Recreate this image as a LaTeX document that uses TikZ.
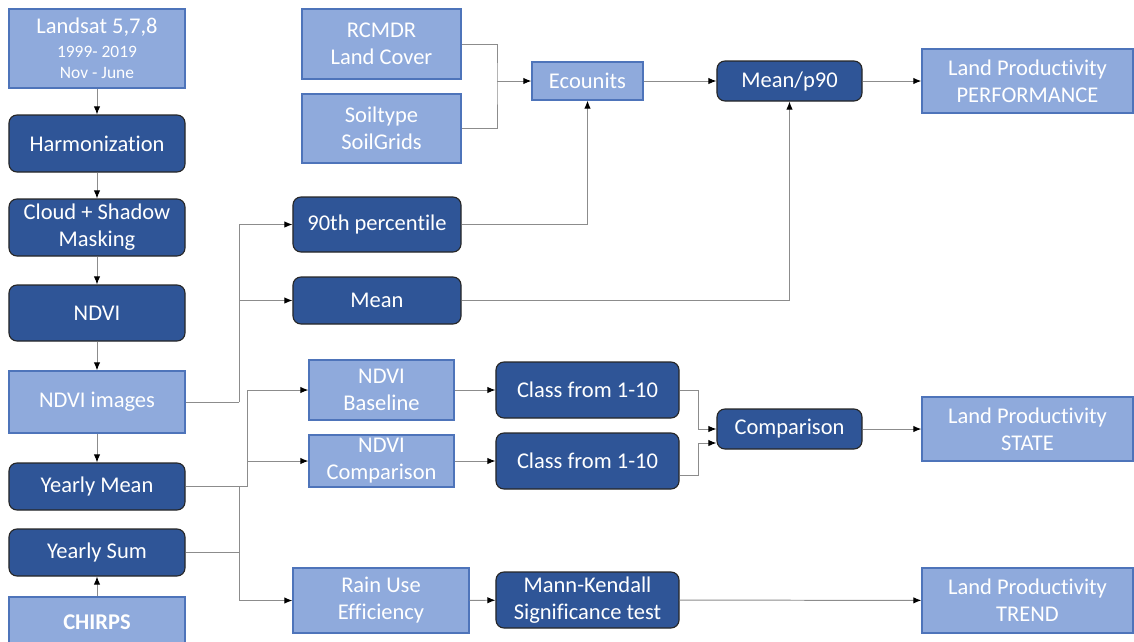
\documentclass[tikz,border=0pt]{standalone}
\usepackage{fontspec}
\setmainfont{Carlito}[Ligatures=CommonOff]
\usetikzlibrary{arrows.meta}
\definecolor{lightblue}{HTML}{8FAADC}
\definecolor{lightedge}{HTML}{4E74BA}
\definecolor{darkblue}{HTML}{2F5597}
\definecolor{linegray}{HTML}{8C8C8C}
\tikzset{
  lightbox/.style={draw=lightedge, fill=lightblue, line width=0.9pt, text=white, align=center, inner sep=0pt, font=\fontsize{16}{19.2}\selectfont},
  darkbox/.style={draw=black!85, fill=darkblue, line width=0.8pt, rounded corners=0.2cm, text=white, align=center, inner sep=0pt, font=\fontsize{16}{19.2}\selectfont},
  link/.style={draw=linegray, line width=0.7pt},
  arr/.style={link, -{Latex[length=2mm,width=1.6mm,color=black]}}
}

\begin{document}
\begin{tikzpicture}[x=0.025cm, y=-0.025cm]
    \useasboundingbox (0,0) rectangle (1134,641);
    % left column
    \node[lightbox, minimum width=4.4cm, minimum height=1.975cm, font=\fontsize{12.4}{14.9}\selectfont] (landsat) at (97,48.5) {{\fontsize{16}{19.2}\selectfont Landsat 5,7,8}\\[2pt]1999- 2019\\Nov - June};
    \node[darkbox, minimum width=4.4cm, minimum height=1.425cm] (harm) at (97,143.5) {Harmonization};
    \node[darkbox, minimum width=4.4cm, minimum height=1.425cm] (cloud) at (97,227.5) {Cloud + Shadow\\Masking};
    \node[darkbox, minimum width=4.4cm, minimum height=1.4cm] (ndvi) at (97,313) {NDVI};
    \node[lightbox, minimum width=4.4cm, minimum height=1.55cm] (ndviimg) at (97,402) {NDVI images};
    \node[darkbox, minimum width=4.4cm, minimum height=1.175cm] (ymean) at (97,486.5) {Yearly Mean};
    \node[darkbox, minimum width=4.4cm, minimum height=1.175cm] (ysum) at (97,552.5) {Yearly Sum};
    \node[lightbox, minimum width=4.4cm, minimum height=1.25cm] (chirps) at (97,622) {\bfseries CHIRPS};
    % middle
    \node[lightbox, minimum width=3.975cm, minimum height=1.75cm] (rcmdr) at (381.5,44) {RCMDR\\Land Cover};
    \node[lightbox, minimum width=3.975cm, minimum height=1.725cm] (soil) at (381.5,128.5) {Soiltype\\SoilGrids};
    \node[lightbox, minimum width=2.775cm, minimum height=0.95cm] (ecounits) at (587.5,81) {Ecounits};
    \node[darkbox, minimum width=4.2cm, minimum height=1.375cm] (p90) at (377,224.5) {90th percentile};
    \node[darkbox, minimum width=4.2cm, minimum height=1.175cm] (mean) at (377,300.5) {Mean};
    \node[lightbox, minimum width=3.625cm, minimum height=1.5cm] (base) at (381.5,390) {NDVI\\Baseline};
    \node[lightbox, minimum width=3.625cm, minimum height=1.3cm] (comp) at (381.5,461) {NDVI\\Comparison};
    \node[darkbox, minimum width=4.575cm, minimum height=1.4cm] (class1) at (587.5,390) {Class from 1-10};
    \node[darkbox, minimum width=4.575cm, minimum height=1.4cm] (class2) at (587.5,461) {Class from 1-10};
    \node[lightbox, minimum width=4.4cm, minimum height=1.625cm] (rue) at (381,600.5) {Rain Use\\Efficiency};
    \node[darkbox, minimum width=4.575cm, minimum height=1.4cm] (mk) at (587.5,600) {Mann-Kendall\\Significance test};
    % right
    \node[darkbox, minimum width=3.625cm, minimum height=1cm] (meanp90) at (789.5,81) {Mean/p90};
    \node[darkbox, minimum width=3.625cm, minimum height=1cm] (compar) at (789.5,429) {Comparison};
    \node[lightbox, minimum width=5.275cm, minimum height=1.6cm] (lpperf) at (1027.5,81) {Land Productivity\\PERFORMANCE};
    \node[lightbox, minimum width=5.275cm, minimum height=1.6cm] (lpstate) at (1027.5,429) {Land Productivity\\STATE};
    \node[lightbox, minimum width=5.275cm, minimum height=1.625cm] (lptrend) at (1027.5,600.5) {Land Productivity\\TREND};

    \coordinate (jimg) at (239,402);
    \coordinate (jmean) at (247,486.5);
    \coordinate (jrain) at (239,486.5);
    \coordinate (jsoil) at (497,81);

    \draw[arr] (landsat) -- (harm);
    \draw[arr] (harm) -- (cloud);
    \draw[arr] (cloud) -- (ndvi);
    \draw[arr] (ndvi) -- (ndviimg);
    \draw[arr] (ndviimg) -- (ymean);
    \draw[arr] (chirps) -- (ysum);
    \draw[link] (ndviimg.east) -- (jimg);
    \draw[arr] (jimg) |- (p90.west);
    \draw[arr] (jimg) |- (mean.west);
    \draw[link] (ymean.east) -- (jmean);
    \draw[arr] (jmean) |- (base.west);
    \draw[arr] (jmean) |- (comp.west);
    \draw[link] (ysum.east) -- (ysum.east -| jrain);
    \draw[arr] (jrain) |- (rue.west);
    \draw[link] (rcmdr.east) -| (jsoil) |- (soil.east);
    \draw[arr] (jsoil) -- (ecounits.west);
    \draw[arr] (p90.east) -| (ecounits.south);
    \draw[arr] (mean.east) -| (meanp90.south);
    \draw[arr] (ecounits) -- (meanp90);
    \draw[arr] (meanp90) -- (lpperf);
    \draw[arr] (base) -- (class1);
    \draw[arr] (comp) -- (class2);
    \draw[arr] (class1.east) -- ++(19,0) |- (compar.west);
    \draw[arr] ([yshift=-0.35cm]class2.east) -- ++(19,0) |- ([yshift=-0.35cm]compar.west);
    \draw[arr] (compar) -- (lpstate);
    \draw[arr] (rue) -- (mk);
    \draw[arr] (mk) -- (lptrend);
\end{tikzpicture}
\end{document}
